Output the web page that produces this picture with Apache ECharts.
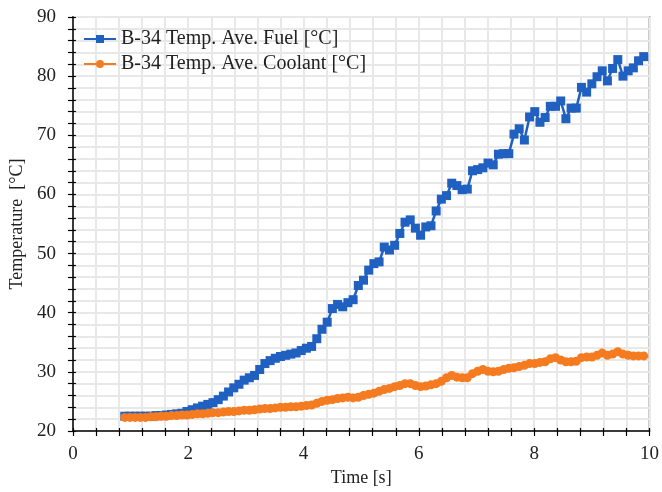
<!DOCTYPE html>
<html>
<head>
<meta charset="utf-8">
<script src="https://cdn.jsdelivr.net/npm/echarts@6/dist/echarts.min.js"></script>
<style>html,body{margin:0;padding:0;background:#fff}#c{width:662px;height:492px}</style>
</head>
<body>
<div id="c"></div>
<script>
const times = [0.90,0.99,1.08,1.17,1.26,1.35,1.44,1.53,1.62,1.71,1.80,1.89,1.98,2.07,2.16,2.25,2.34,2.43,2.52,2.61,
2.70,2.79,2.88,2.97,3.06,3.15,3.24,3.33,3.42,3.51,3.60,3.69,3.78,3.87,3.96,4.05,4.14,4.23,4.32,4.41,
4.50,4.59,4.68,4.77,4.86,4.95,5.04,5.13,5.22,5.31,5.40,5.49,5.58,5.67,5.76,5.85,5.94,6.03,6.12,6.21,
6.30,6.39,6.48,6.57,6.66,6.75,6.84,6.93,7.02,7.11,7.20,7.29,7.38,7.47,7.56,7.65,7.74,7.83,7.92,8.01,
8.10,8.19,8.28,8.37,8.46,8.55,8.64,8.73,8.82,8.91,9.00,9.09,9.18,9.27,9.36,9.45,9.54,9.63,9.72,9.81,9.90];
const fuel = [22.5,22.5,22.5,22.5,22.5,22.5,22.6,22.6,22.7,22.8,22.9,23.0,23.3,23.6,23.9,24.2,24.5,24.8,25.3,25.9,
26.6,27.3,27.9,28.6,29.0,29.4,30.4,31.4,31.9,32.3,32.6,32.8,33.0,33.2,33.6,34.0,34.3,35.6,37.2,38.4,
40.7,41.4,41.0,41.7,42.2,44.6,45.5,47.2,48.3,48.6,51.1,50.6,51.4,53.4,55.3,55.7,54.3,53.1,54.5,54.7,
57.2,59.2,59.8,61.9,61.5,60.8,60.9,64.0,64.2,64.5,65.3,65.0,66.8,66.9,66.9,70.2,71.1,69.2,73.1,74.0,
72.2,73.0,74.9,74.9,75.8,72.8,74.6,74.6,78.1,77.3,78.7,79.9,80.9,79.2,81.3,82.8,80.0,80.9,81.4,82.6,83.3];
const coolant = [22.3,22.3,22.3,22.3,22.3,22.4,22.4,22.5,22.5,22.6,22.6,22.7,22.7,22.8,22.9,22.9,23.0,23.1,23.1,23.2,
23.3,23.3,23.4,23.5,23.5,23.6,23.7,23.8,23.8,23.9,24.0,24.0,24.1,24.1,24.2,24.3,24.4,24.7,25.0,25.2,
25.3,25.5,25.6,25.7,25.6,25.7,26.0,26.2,26.4,26.7,27.0,27.2,27.5,27.7,28.0,28.0,27.7,27.5,27.6,27.8,
28.0,28.4,29.0,29.4,29.1,29.0,29.0,29.7,30.1,30.4,30.1,30.0,30.1,30.4,30.6,30.7,30.9,31.1,31.4,31.4,
31.6,31.7,32.2,32.4,32.0,31.7,31.7,31.8,32.4,32.5,32.5,32.8,33.2,32.8,33.0,33.4,33.0,32.8,32.7,32.7,32.7];
const seriesNames = ['B-34 Temp. Ave. Fuel [°C]', 'B-34 Temp. Ave. Coolant [°C]'];
const xTitle = 'Time [s]';
const yTitle = 'Temperature  [°C]';

const font = 'Liberation Serif';
const pair = (vals) => times.map((t, i) => [t, vals[i]]);
const chart = echarts.init(document.getElementById('c'), null, {renderer: 'canvas'});
const axisCommon = {
  axisLine: {show: true, onZero: false, lineStyle: {color: '#000', width: 1.5}},
  axisTick: {show: true, length: 5, lineStyle: {color: '#000', width: 1.2}},
  minorTick: {show: true, splitNumber: 5, length: 5, lineStyle: {color: '#000', width: 1.2}},
  splitLine: {show: true, lineStyle: {color: '#e8e8e8', width: 2}},
  minorSplitLine: {show: true, lineStyle: {color: '#e8e8e8', width: 2}},
  axisLabel: {color: '#222', fontFamily: font, fontSize: 19},
  nameTextStyle: {color: '#222', fontFamily: font, fontSize: 18}
};
const innerTicks = {
  axisLine: {show: false},
  axisLabel: {show: false},
  splitLine: {show: false},
  axisTick: {show: true, inside: true, length: 3, lineStyle: {color: '#000', width: 1.2}},
  minorTick: {show: true, splitNumber: 5, length: 3, lineStyle: {color: '#000', width: 1.2}}
};
chart.setOption({
  animation: false,
  backgroundColor: '#fff',
  grid: {left: 72, right: 11, top: 17, bottom: 61, show: true, borderColor: '#333', borderWidth: 1.5, backgroundColor: 'transparent'},
  legend: {
    orient: 'vertical', left: 78, top: 24, itemWidth: 32, itemHeight: 10, itemGap: 5,
    textStyle: {fontFamily: font, fontSize: 20, color: '#222'},
    data: seriesNames
  },
  xAxis: [Object.assign({}, axisCommon, {
    type: 'value', min: 0, max: 10, interval: 2,
    name: xTitle, nameLocation: 'middle', nameGap: 38,
    axisLabel: Object.assign({}, axisCommon.axisLabel, {margin: 14})
  }), Object.assign({}, innerTicks, {type: 'value', min: 0, max: 10, interval: 2, position: 'bottom'})],
  yAxis: [Object.assign({}, axisCommon, {
    type: 'value', min: 20, max: 90, interval: 10,
    name: yTitle, nameLocation: 'middle', nameGap: 44,
    axisLabel: Object.assign({}, axisCommon.axisLabel, {margin: 17})
  }), Object.assign({}, innerTicks, {type: 'value', min: 20, max: 90, interval: 10, position: 'left'})],
  series: [
    {name: seriesNames[0], type: 'line', data: pair(fuel), symbol: 'rect', symbolSize: 9,
     itemStyle: {color: '#2060C0'}, lineStyle: {color: '#2060C0', width: 2.5}, z: 2},
    {name: seriesNames[1], type: 'line', data: pair(coolant), symbol: 'circle', symbolSize: 9,
     itemStyle: {color: '#F57B20'}, lineStyle: {color: '#F57B20', width: 2.5}, z: 3}
  ]
});
</script>
</body>
</html>
